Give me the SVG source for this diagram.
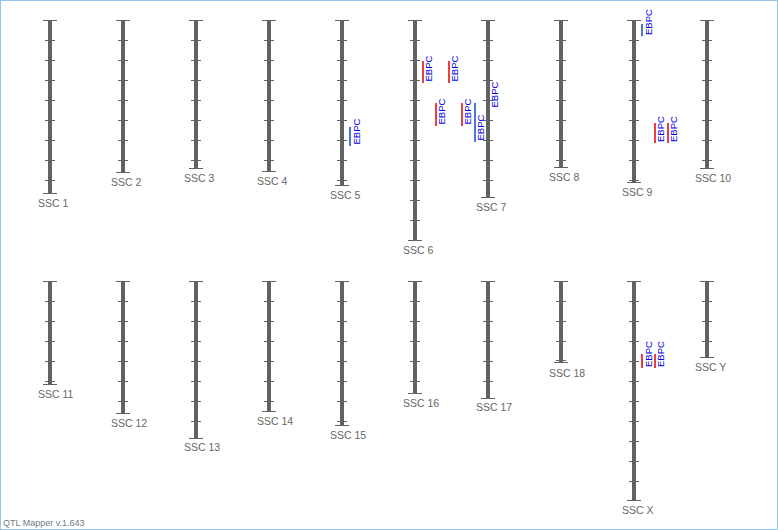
<svg xmlns="http://www.w3.org/2000/svg" width="778" height="530" viewBox="0 0 778 530">
<style>
.bar{fill:#626262}
.tk{stroke:#626262;stroke-width:1;fill:none}
.lbl{font-family:"Liberation Sans",Arial,sans-serif;font-size:10.5px;fill:#666}
.qr{stroke:#e8413c;stroke-width:2}
.qb{stroke:#4a78d8;stroke-width:2}
.qt{font-family:"Liberation Sans",Arial,sans-serif;font-size:9.5px;fill:#0000ee}
.ft{font-family:"Liberation Sans",Arial,sans-serif;font-size:9px;fill:#6b7b8c}
</style>
<rect x="0.5" y="0.5" width="777" height="529" fill="#fff" stroke="#94c6ea"/>
<g id="ssc1"><rect class="bar" x="48" y="20" width="4" height="173"/><path class="tk" d="M43 20.5h14M43 193.5h14M45 40.5h10M45 60.5h10M45 80.5h10M45 100.5h10M45 120.5h10M45 140.5h10M45 160.5h10M45 180.5h10"/><text class="lbl" x="38" y="207">SSC 1</text></g>
<g id="ssc2"><rect class="bar" x="121" y="20" width="4" height="152"/><path class="tk" d="M116 20.5h14M116 172.5h14M118 40.5h10M118 60.5h10M118 80.5h10M118 100.5h10M118 120.5h10M118 140.5h10M118 160.5h10"/><text class="lbl" x="111" y="186">SSC 2</text></g>
<g id="ssc3"><rect class="bar" x="194" y="20" width="4" height="148"/><path class="tk" d="M189 20.5h14M189 168.5h14M191 40.5h10M191 60.5h10M191 80.5h10M191 100.5h10M191 120.5h10M191 140.5h10M191 160.5h10"/><text class="lbl" x="184" y="182">SSC 3</text></g>
<g id="ssc4"><rect class="bar" x="267" y="20" width="4" height="151"/><path class="tk" d="M262 20.5h14M262 171.5h14M264 40.5h10M264 60.5h10M264 80.5h10M264 100.5h10M264 120.5h10M264 140.5h10M264 160.5h10"/><text class="lbl" x="257" y="185">SSC 4</text></g>
<g id="ssc5"><rect class="bar" x="340" y="20" width="4" height="165"/><path class="tk" d="M335 20.5h14M335 185.5h14M337 40.5h10M337 60.5h10M337 80.5h10M337 100.5h10M337 120.5h10M337 140.5h10M337 160.5h10M337 180.5h10"/><text class="lbl" x="330" y="199">SSC 5</text></g>
<g id="ssc6"><rect class="bar" x="413" y="20" width="4" height="220"/><path class="tk" d="M408 20.5h14M408 240.5h14M410 40.5h10M410 60.5h10M410 80.5h10M410 100.5h10M410 120.5h10M410 140.5h10M410 160.5h10M410 180.5h10M410 200.5h10M410 220.5h10"/><text class="lbl" x="403" y="254">SSC 6</text></g>
<g id="ssc7"><rect class="bar" x="486" y="20" width="4" height="177"/><path class="tk" d="M481 20.5h14M481 197.5h14M483 40.5h10M483 60.5h10M483 80.5h10M483 100.5h10M483 120.5h10M483 140.5h10M483 160.5h10M483 180.5h10"/><text class="lbl" x="476" y="211">SSC 7</text></g>
<g id="ssc8"><rect class="bar" x="559" y="20" width="4" height="147"/><path class="tk" d="M554 20.5h14M554 167.5h14M556 40.5h10M556 60.5h10M556 80.5h10M556 100.5h10M556 120.5h10M556 140.5h10M556 160.5h10"/><text class="lbl" x="549" y="181">SSC 8</text></g>
<g id="ssc9"><rect class="bar" x="632" y="20" width="4" height="162"/><path class="tk" d="M627 20.5h14M627 182.5h14M629 40.5h10M629 60.5h10M629 80.5h10M629 100.5h10M629 120.5h10M629 140.5h10M629 160.5h10M629 180.5h10"/><text class="lbl" x="622" y="196">SSC 9</text></g>
<g id="ssc10"><rect class="bar" x="705" y="20" width="4" height="148"/><path class="tk" d="M700 20.5h14M700 168.5h14M702 40.5h10M702 60.5h10M702 80.5h10M702 100.5h10M702 120.5h10M702 140.5h10M702 160.5h10"/><text class="lbl" x="695" y="182">SSC 10</text></g>
<g id="ssc11"><rect class="bar" x="48" y="281" width="4" height="103"/><path class="tk" d="M43 281.5h14M43 384.5h14M45 301.5h10M45 321.5h10M45 341.5h10M45 361.5h10M45 381.5h10"/><text class="lbl" x="38" y="398">SSC 11</text></g>
<g id="ssc12"><rect class="bar" x="121" y="281" width="4" height="132"/><path class="tk" d="M116 281.5h14M116 413.5h14M118 301.5h10M118 321.5h10M118 341.5h10M118 361.5h10M118 381.5h10M118 401.5h10"/><text class="lbl" x="111" y="427">SSC 12</text></g>
<g id="ssc13"><rect class="bar" x="194" y="281" width="4" height="157"/><path class="tk" d="M189 281.5h14M189 438.5h14M191 301.5h10M191 321.5h10M191 341.5h10M191 361.5h10M191 381.5h10M191 401.5h10M191 421.5h10"/><text class="lbl" x="184" y="451">SSC 13</text></g>
<g id="ssc14"><rect class="bar" x="267" y="281" width="4" height="130"/><path class="tk" d="M262 281.5h14M262 411.5h14M264 301.5h10M264 321.5h10M264 341.5h10M264 361.5h10M264 381.5h10M264 401.5h10"/><text class="lbl" x="257" y="425">SSC 14</text></g>
<g id="ssc15"><rect class="bar" x="340" y="281" width="4" height="144"/><path class="tk" d="M335 281.5h14M335 425.5h14M337 301.5h10M337 321.5h10M337 341.5h10M337 361.5h10M337 381.5h10M337 401.5h10M337 421.5h10"/><text class="lbl" x="330" y="439">SSC 15</text></g>
<g id="ssc16"><rect class="bar" x="413" y="281" width="4" height="112"/><path class="tk" d="M408 281.5h14M408 393.5h14M410 301.5h10M410 321.5h10M410 341.5h10M410 361.5h10M410 381.5h10"/><text class="lbl" x="403" y="407">SSC 16</text></g>
<g id="ssc17"><rect class="bar" x="486" y="281" width="4" height="117"/><path class="tk" d="M481 281.5h14M481 398.5h14M483 301.5h10M483 321.5h10M483 341.5h10M483 361.5h10M483 381.5h10"/><text class="lbl" x="476" y="411">SSC 17</text></g>
<g id="ssc18"><rect class="bar" x="559" y="281" width="4" height="81"/><path class="tk" d="M554 281.5h14M554 362.5h14M556 301.5h10M556 321.5h10M556 341.5h10M556 360.5h10"/><text class="lbl" x="549" y="377">SSC 18</text></g>
<g id="sscX"><rect class="bar" x="632" y="281" width="4" height="219"/><path class="tk" d="M627 281.5h14M627 500.5h14M629 301.5h10M629 321.5h10M629 341.5h10M629 361.5h10M629 381.5h10M629 401.5h10M629 421.5h10M629 441.5h10M629 461.5h10M629 481.5h10"/><text class="lbl" x="622" y="514">SSC X</text></g>
<g id="sscY"><rect class="bar" x="705" y="281" width="4" height="76"/><path class="tk" d="M700 281.5h14M700 357.5h14M702 301.5h10M702 321.5h10M702 341.5h10"/><text class="lbl" x="695" y="371">SSC Y</text></g>
<g id="qtl">
<line class="qb" x1="350" y1="127" x2="350" y2="146"/><text class="qt" x="359.5" y="144.5" transform="rotate(-90 359.5 144.5)">EBPC</text>
<line class="qr" x1="423" y1="61" x2="423" y2="83"/><text class="qt" x="432" y="81.5" transform="rotate(-90 432 81.5)">EBPC</text>
<line class="qr" x1="449" y1="61" x2="449" y2="83"/><text class="qt" x="458" y="81.5" transform="rotate(-90 458 81.5)">EBPC</text>
<line class="qr" x1="436" y1="103" x2="436" y2="126"/><text class="qt" x="445" y="124.5" transform="rotate(-90 445 124.5)">EBPC</text>
<line class="qr" x1="462" y1="103" x2="462" y2="126"/><text class="qt" x="471" y="124.5" transform="rotate(-90 471 124.5)">EBPC</text>
<line class="qb" x1="475" y1="103" x2="475" y2="142"/><text class="qt" x="484" y="140.5" transform="rotate(-90 484 140.5)">EBPC</text>
<text class="qt" x="497.5" y="107.5" transform="rotate(-90 497.5 107.5)">EBPC</text>
<line class="qb" x1="642" y1="24" x2="642" y2="36"/><text class="qt" x="651.5" y="35" transform="rotate(-90 651.5 35)">EBPC</text>
<line class="qr" x1="655" y1="123" x2="655" y2="143"/><text class="qt" x="664" y="142" transform="rotate(-90 664 142)">EBPC</text>
<line class="qr" x1="668" y1="123" x2="668" y2="143"/><text class="qt" x="677" y="142" transform="rotate(-90 677 142)">EBPC</text>
<line class="qr" x1="642" y1="354" x2="642" y2="368"/><text class="qt" x="651.5" y="367" transform="rotate(-90 651.5 367)">EBPC</text>
<line class="qr" x1="655" y1="354" x2="655" y2="368"/><text class="qt" x="664" y="367" transform="rotate(-90 664 367)">EBPC</text>
</g>
<text class="ft" x="3" y="526">QTL Mapper v.1.643</text>
</svg>
